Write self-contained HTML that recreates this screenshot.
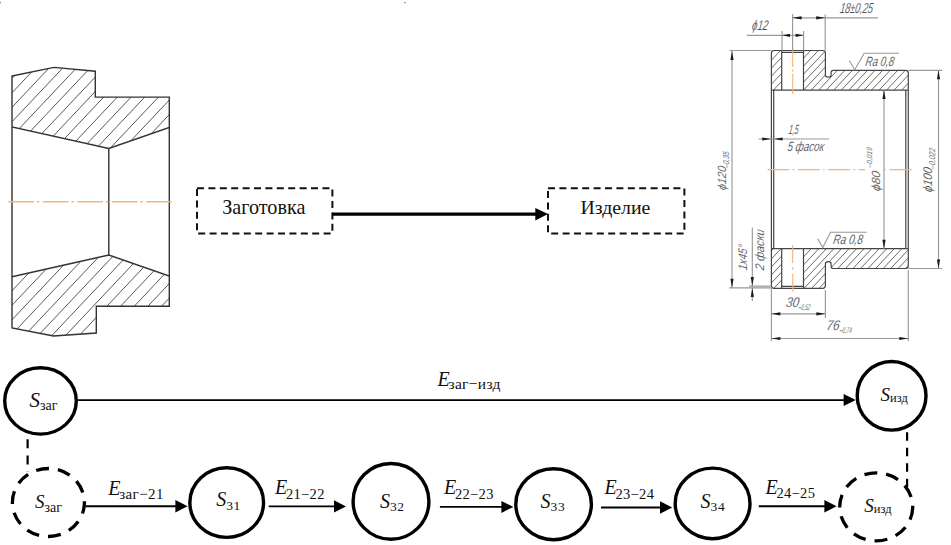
<!DOCTYPE html>
<html><head><meta charset="utf-8"><style>
html,body{margin:0;padding:0;background:#fff;width:951px;height:545px;overflow:hidden}
svg{display:block;font-family:"Liberation Serif",serif}
</style></head><body>
<svg width="951" height="545" viewBox="0 0 951 545">
<rect x="404" y="2" width="2" height="1.2" fill="#999"/><rect x="0" y="2" width="1" height="1.2" fill="#888"/>
<defs>
<clipPath id="c1"><polygon points="12,76 54,67.4 95.3,71.2 95.3,97.1 169.3,97.1 169.3,127.5 108.8,148.5 12,127"/></clipPath>
<clipPath id="c2"><polygon points="12,276.8 108.8,255 169.3,276 169.3,306.3 96.3,306.3 96.3,333 53.5,336 12,328"/></clipPath>
</defs>
<path clip-path="url(#c1)" d="M0,47.50L200,-164.50M0,62.00L200,-150.00M0,76.50L200,-135.50M0,91.00L200,-121.00M0,105.50L200,-106.50M0,120.00L200,-92.00M0,134.50L200,-77.50M0,149.00L200,-63.00M0,163.50L200,-48.50M0,178.00L200,-34.00M0,192.50L200,-19.50M0,207.00L200,-5.00M0,221.50L200,9.50M0,236.00L200,24.00M0,250.50L200,38.50M0,265.00L200,53.00M0,279.50L200,67.50M0,294.00L200,82.00M0,308.50L200,96.50M0,323.00L200,111.00M0,337.50L200,125.50M0,352.00L200,140.00M0,366.50L200,154.50M0,381.00L200,169.00M0,395.50L200,183.50M0,410.00L200,198.00M0,424.50L200,212.50M0,439.00L200,227.00M0,453.50L200,241.50M0,468.00L200,256.00M0,482.50L200,270.50M0,497.00L200,285.00M0,511.50L200,299.50M0,526.00L200,314.00" stroke="#444" stroke-width="0.9" fill="none"/>
<path clip-path="url(#c2)" d="M0,100.50L200,-111.50M0,115.00L200,-97.00M0,129.50L200,-82.50M0,144.00L200,-68.00M0,158.50L200,-53.50M0,173.00L200,-39.00M0,187.50L200,-24.50M0,202.00L200,-10.00M0,216.50L200,4.50M0,231.00L200,19.00M0,245.50L200,33.50M0,260.00L200,48.00M0,274.50L200,62.50M0,289.00L200,77.00M0,303.50L200,91.50M0,318.00L200,106.00M0,332.50L200,120.50M0,347.00L200,135.00M0,361.50L200,149.50M0,376.00L200,164.00M0,390.50L200,178.50M0,405.00L200,193.00M0,419.50L200,207.50M0,434.00L200,222.00M0,448.50L200,236.50M0,463.00L200,251.00M0,477.50L200,265.50M0,492.00L200,280.00M0,506.50L200,294.50M0,521.00L200,309.00M0,535.50L200,323.50M0,550.00L200,338.00M0,564.50L200,352.50M0,579.00L200,367.00M0,593.50L200,381.50M0,608.00L200,396.00M0,622.50L200,410.50M0,637.00L200,425.00M0,651.50L200,439.50M0,666.00L200,454.00M0,680.50L200,468.50M0,695.00L200,483.00M0,709.50L200,497.50" stroke="#444" stroke-width="0.9" fill="none"/>
<polygon points="12,76 54,67.4 95.3,71.2 95.3,97.1 169.3,97.1 169.3,127.5 108.8,148.5 12,127" fill="none" stroke="#333" stroke-width="1.4" stroke-linejoin="miter"/>
<polygon points="12,276.8 108.8,255 169.3,276 169.3,306.3 96.3,306.3 96.3,333 53.5,336 12,328" fill="none" stroke="#333" stroke-width="1.4"/>
<path d="M12,127V276.8M108.8,148.5V255M169.3,127.5V276" stroke="#333" stroke-width="1.4" fill="none"/>
<path d="M8.4,201.8H172.6" stroke="#f6b47a" stroke-width="1.6" stroke-dasharray="25.5 3 2.5 3.5" fill="none"/>
<rect x="197" y="188.2" width="135.4" height="45.2" fill="none" stroke="#111" stroke-width="2" stroke-dasharray="7 4.4"/>
<rect x="548" y="188.2" width="136.4" height="45.2" fill="none" stroke="#111" stroke-width="2" stroke-dasharray="7 4.4"/>
<text x="263.8" y="213.9" font-family="Liberation Serif" font-size="20.2" text-anchor="middle" fill="#111">Заготовка</text>
<text x="615.4" y="213.6" font-family="Liberation Serif" font-size="19.8" text-anchor="middle" fill="#111">Изделие</text>
<path d="M332.4,214.1H537" stroke="#000" stroke-width="3.2" fill="none"/>
<polygon points="535.3,207.9 548,214.1 535.3,220.4" fill="#000"/>
<defs>
<clipPath id="rA"><path d="M771.4,90.1V53.3Q771.4,50.5 774.2,50.5H781.7V90.1Z"/><path d="M803.5,50.5H822.6Q825.4,50.5 825.4,53.3V75Q825.4,77.2 828.25,77.2Q831.1,77.2 831.1,75V72.6Q831.1,70.3 833.4,70.3H905.5Q908.3,70.3 908.3,73.1V90.1H803.5Z"/></clipPath>
<clipPath id="rB"><path transform="matrix(1,0,0,-1,0,338.8)" d="M771.4,90.1V53.3Q771.4,50.5 774.2,50.5H781.7V90.1Z"/><path transform="matrix(1,0,0,-1,0,338.8)" d="M803.5,50.5H822.6Q825.4,50.5 825.4,53.3V75Q825.4,77.2 828.25,77.2Q831.1,77.2 831.1,75V72.6Q831.1,70.3 833.4,70.3H905.5Q908.3,70.3 908.3,73.1V90.1H803.5Z"/></clipPath>
</defs>
<path clip-path="url(#rA)" d="M760,32.30L960,-179.70M760,40.30L960,-171.70M760,48.30L960,-163.70M760,56.30L960,-155.70M760,64.30L960,-147.70M760,72.30L960,-139.70M760,80.30L960,-131.70M760,88.30L960,-123.70M760,96.30L960,-115.70M760,104.30L960,-107.70M760,112.30L960,-99.70M760,120.30L960,-91.70M760,128.30L960,-83.70M760,136.30L960,-75.70M760,144.30L960,-67.70M760,152.30L960,-59.70M760,160.30L960,-51.70M760,168.30L960,-43.70M760,176.30L960,-35.70M760,184.30L960,-27.70M760,192.30L960,-19.70M760,200.30L960,-11.70M760,208.30L960,-3.70M760,216.30L960,4.30M760,224.30L960,12.30M760,232.30L960,20.30M760,240.30L960,28.30M760,248.30L960,36.30M760,256.30L960,44.30M760,264.30L960,52.30M760,272.30L960,60.30M760,280.30L960,68.30M760,288.30L960,76.30M760,296.30L960,84.30M760,304.30L960,92.30M760,312.30L960,100.30M760,320.30L960,108.30M760,328.30L960,116.30M760,336.30L960,124.30M760,344.30L960,132.30M760,352.30L960,140.30M760,360.30L960,148.30M760,368.30L960,156.30M760,376.30L960,164.30M760,384.30L960,172.30M760,392.30L960,180.30M760,400.30L960,188.30M760,408.30L960,196.30M760,416.30L960,204.30M760,424.30L960,212.30M760,432.30L960,220.30M760,440.30L960,228.30M760,448.30L960,236.30M760,456.30L960,244.30M760,464.30L960,252.30M760,472.30L960,260.30M760,480.30L960,268.30M760,488.30L960,276.30M760,496.30L960,284.30M760,504.30L960,292.30" stroke="#5a5a5a" stroke-width="0.9" fill="none"/>
<path clip-path="url(#rB)" d="M760,39.00L960,-173.00M760,47.00L960,-165.00M760,55.00L960,-157.00M760,63.00L960,-149.00M760,71.00L960,-141.00M760,79.00L960,-133.00M760,87.00L960,-125.00M760,95.00L960,-117.00M760,103.00L960,-109.00M760,111.00L960,-101.00M760,119.00L960,-93.00M760,127.00L960,-85.00M760,135.00L960,-77.00M760,143.00L960,-69.00M760,151.00L960,-61.00M760,159.00L960,-53.00M760,167.00L960,-45.00M760,175.00L960,-37.00M760,183.00L960,-29.00M760,191.00L960,-21.00M760,199.00L960,-13.00M760,207.00L960,-5.00M760,215.00L960,3.00M760,223.00L960,11.00M760,231.00L960,19.00M760,239.00L960,27.00M760,247.00L960,35.00M760,255.00L960,43.00M760,263.00L960,51.00M760,271.00L960,59.00M760,279.00L960,67.00M760,287.00L960,75.00M760,295.00L960,83.00M760,303.00L960,91.00M760,311.00L960,99.00M760,319.00L960,107.00M760,327.00L960,115.00M760,335.00L960,123.00M760,343.00L960,131.00M760,351.00L960,139.00M760,359.00L960,147.00M760,367.00L960,155.00M760,375.00L960,163.00M760,383.00L960,171.00M760,391.00L960,179.00M760,399.00L960,187.00M760,407.00L960,195.00M760,415.00L960,203.00M760,423.00L960,211.00M760,431.00L960,219.00M760,439.00L960,227.00M760,447.00L960,235.00M760,455.00L960,243.00M760,463.00L960,251.00M760,471.00L960,259.00M760,479.00L960,267.00M760,487.00L960,275.00M760,495.00L960,283.00M760,503.00L960,291.00M760,511.00L960,299.00" stroke="#5a5a5a" stroke-width="0.9" fill="none"/>
<path d="M771.4,169.4V53.3Q771.4,50.5 774.2,50.5H822.6Q825.4,50.5 825.4,53.3V75Q825.4,77.2 828.25,77.2Q831.1,77.2 831.1,75V72.6Q831.1,70.3 833.4,70.3H905.5Q908.3,70.3 908.3,73.1V169.4M771.4,90.1H908.3M781.7,50.5V90.1M803.5,50.5V90.1M781.7,52.4H803.5M773.7,90.1V169.4M905.8,90.1V169.4" stroke="#454545" stroke-width="1.2" fill="none"/>
<g transform="matrix(1,0,0,-1,0,338.8)"><path d="M771.4,169.4V53.3Q771.4,50.5 774.2,50.5H822.6Q825.4,50.5 825.4,53.3V75Q825.4,77.2 828.25,77.2Q831.1,77.2 831.1,75V72.6Q831.1,70.3 833.4,70.3H905.5Q908.3,70.3 908.3,73.1V169.4M771.4,90.1H908.3M781.7,50.5V90.1M803.5,50.5V90.1M781.7,52.4H803.5M773.7,90.1V169.4M905.8,90.1V169.4" stroke="#454545" stroke-width="1.2" fill="none"/></g>
<path d="M767.6,169.6H865.2" stroke="#f6b37a" stroke-width="1.2" stroke-dasharray="21.9 3.3 1.7 3.4" fill="none"/>
<path d="M883.9,169.6H911.5" stroke="#f6b37a" stroke-width="1.2" stroke-dasharray="1.7 3.9 21.9 3.3" fill="none"/>
<path d="M792.7,50.5V67M792.7,69.5V71.7M792.7,73.5V94M792.7,245V263M792.7,267V269.8M792.7,273.4V291.7" stroke="#f6b37a" stroke-width="1.1" fill="none"/>
<path d="M729.4,50.5H771.4M732,51V287.8M729.1,287.8H771.4M749,286.1H771.4M752.3,227.4V301M746.8,35.3H803.6M782,31V50.5M803.6,31V50.5M792.6,14V50.5M825.2,14.5V50.5M792.6,17.8H878M758.5,139H829M884,90.1V248.7M938.5,70.3V268.5M908.3,70.3H942M908.3,268.5H942M771.4,313.8H825.4M825.4,290V318M771.4,288.3V341M908.3,270V341M771.4,338.5H908.3M849.2,60.5L854.7,69.7L864.2,53.2H899M817.7,238.8L822.8,247.6L830.5,232.2H866.8" stroke="#999999" stroke-width="1.15" fill="none"/>
<polygon points="732,51 733.6,60.0 730.4,60.0" fill="#1a1a1a"/>
<polygon points="732,287.8 730.4,278.8 733.6,278.8" fill="#1a1a1a"/>
<polygon points="752.3,286.1 750.6999999999999,277.1 753.9,277.1" fill="#1a1a1a"/>
<polygon points="752.3,288 753.9,297.0 750.6999999999999,297.0" fill="#1a1a1a"/>
<polygon points="782,35.3 790.0,33.699999999999996 790.0,36.9" fill="#1a1a1a"/>
<polygon points="803.6,35.3 795.6,36.9 795.6,33.699999999999996" fill="#1a1a1a"/>
<polygon points="792.6,17.8 801.6,16.2 801.6,19.400000000000002" fill="#1a1a1a"/>
<polygon points="825.2,17.8 816.2,19.400000000000002 816.2,16.2" fill="#1a1a1a"/>
<polygon points="771.2,139 762.2,140.6 762.2,137.4" fill="#1a1a1a"/>
<polygon points="773.6,139 782.6,137.4 782.6,140.6" fill="#1a1a1a"/>
<polygon points="884,90.1 885.6,99.1 882.4,99.1" fill="#1a1a1a"/>
<polygon points="884,248.7 882.4,239.7 885.6,239.7" fill="#1a1a1a"/>
<polygon points="938.5,70.3 940.1,79.3 936.9,79.3" fill="#1a1a1a"/>
<polygon points="938.5,268.5 936.9,259.5 940.1,259.5" fill="#1a1a1a"/>
<polygon points="771.4,313.8 780.4,312.2 780.4,315.40000000000003" fill="#1a1a1a"/>
<polygon points="825.4,313.8 816.4,315.40000000000003 816.4,312.2" fill="#1a1a1a"/>
<polygon points="771.4,338.5 780.4,336.9 780.4,340.1" fill="#1a1a1a"/>
<polygon points="908.3,338.5 899.3,340.1 899.3,336.9" fill="#1a1a1a"/>
<text transform="translate(751.6,29.599999999999998) skewX(-9)" x="0" y="0" font-size="14" font-family="Liberation Sans" font-style="italic" fill="#4d4d4d" textLength="16" lengthAdjust="spacingAndGlyphs" stroke="#fff" stroke-width="0.12" >ϕ12</text>
<text transform="translate(839.4,13.200000000000001) skewX(-9)" x="0" y="0" font-size="14.5" font-family="Liberation Sans" font-style="italic" fill="#4d4d4d" textLength="33" lengthAdjust="spacingAndGlyphs" stroke="#fff" stroke-width="0.12" >18±0,25</text>
<text transform="translate(865,66.4) skewX(-9)" x="0" y="0" font-size="13.5" font-family="Liberation Sans" font-style="italic" fill="#4d4d4d" textLength="28.6" lengthAdjust="spacingAndGlyphs" stroke="#fff" stroke-width="0.12" >Ra 0,8</text>
<text transform="translate(832.7,244.4) skewX(-9)" x="0" y="0" font-size="13.5" font-family="Liberation Sans" font-style="italic" fill="#4d4d4d" textLength="29.7" lengthAdjust="spacingAndGlyphs" stroke="#fff" stroke-width="0.12" >Ra 0,8</text>
<text transform="translate(788.3,133.6) skewX(-9)" x="0" y="0" font-size="13.5" font-family="Liberation Sans" font-style="italic" fill="#4d4d4d" textLength="9.7" lengthAdjust="spacingAndGlyphs" stroke="#fff" stroke-width="0.12" >1,5</text>
<text transform="translate(787,151.4) skewX(-9)" x="0" y="0" font-size="13.5" font-family="Liberation Sans" font-style="italic" fill="#4d4d4d" textLength="36.5" lengthAdjust="spacingAndGlyphs" stroke="#fff" stroke-width="0.12" >5 фасок</text>
<text transform="translate(785.4,306.9) skewX(-9)" x="0" y="0" font-size="14" font-family="Liberation Sans" font-style="italic" fill="#4d4d4d" textLength="13" lengthAdjust="spacingAndGlyphs" stroke="#fff" stroke-width="0.12" >30</text>
<text transform="translate(798.6,309.9) skewX(-9)" x="0" y="0" font-size="8.5" font-family="Liberation Sans" font-style="italic" fill="#4d4d4d" textLength="11" lengthAdjust="spacingAndGlyphs" stroke="#fff" stroke-width="0.12" >–0,52</text>
<text transform="translate(826,329.9) skewX(-9)" x="0" y="0" font-size="14" font-family="Liberation Sans" font-style="italic" fill="#4d4d4d" textLength="13" lengthAdjust="spacingAndGlyphs" stroke="#fff" stroke-width="0.12" >76</text>
<text transform="translate(839.4,332.9) skewX(-9)" x="0" y="0" font-size="8.5" font-family="Liberation Sans" font-style="italic" fill="#4d4d4d" textLength="12" lengthAdjust="spacingAndGlyphs" stroke="#fff" stroke-width="0.12" >–0,74</text>
<text transform="translate(725.9,190.4) rotate(-90) skewX(-9)" x="0" y="0" font-size="11.8" font-family="Liberation Sans" font-style="italic" fill="#4d4d4d" stroke="#fff" stroke-width="0.12" textLength="24" lengthAdjust="spacingAndGlyphs">ϕ120</text>
<text transform="translate(728.6999999999999,168.6) rotate(-90) skewX(-9)" x="0" y="0" font-size="8.5" font-family="Liberation Sans" font-style="italic" fill="#4d4d4d" stroke="#fff" stroke-width="0.12" textLength="17" lengthAdjust="spacingAndGlyphs">–0,35</text>
<text transform="translate(879.6,191.5) rotate(-90) skewX(-9)" x="0" y="0" font-size="11.8" font-family="Liberation Sans" font-style="italic" fill="#4d4d4d" stroke="#fff" stroke-width="0.12" textLength="20" lengthAdjust="spacingAndGlyphs">ϕ80</text>
<text transform="translate(871.8,168) rotate(-90) skewX(-9)" x="0" y="0" font-size="7.5" font-family="Liberation Sans" font-style="italic" fill="#4d4d4d" stroke="#fff" stroke-width="0.12" textLength="20.5" lengthAdjust="spacingAndGlyphs">–0,019</text>
<text transform="translate(932.4,192.4) rotate(-90) skewX(-9)" x="0" y="0" font-size="12.5" font-family="Liberation Sans" font-style="italic" fill="#4d4d4d" stroke="#fff" stroke-width="0.12" textLength="24.5" lengthAdjust="spacingAndGlyphs">ϕ100</text>
<text transform="translate(934.6,169.4) rotate(-90) skewX(-9)" x="0" y="0" font-size="8.5" font-family="Liberation Sans" font-style="italic" fill="#4d4d4d" stroke="#fff" stroke-width="0.12" textLength="21" lengthAdjust="spacingAndGlyphs">–0,022</text>
<text transform="translate(747.0,270.4) rotate(-90) skewX(-9)" x="0" y="0" font-size="12.5" font-family="Liberation Sans" font-style="italic" fill="#4d4d4d" stroke="#fff" stroke-width="0.12" textLength="25.5" lengthAdjust="spacingAndGlyphs">1х45°</text>
<text transform="translate(764.0,270.4) rotate(-90) skewX(-9)" x="0" y="0" font-size="12.5" font-family="Liberation Sans" font-style="italic" fill="#4d4d4d" stroke="#fff" stroke-width="0.12" textLength="40.5" lengthAdjust="spacingAndGlyphs">2 фаски</text>
<ellipse cx="40.5" cy="400.9" rx="35.8" ry="33.2" fill="none" stroke="#000" stroke-width="3.4"/>
<ellipse cx="891.6" cy="395.8" rx="34.4" ry="34.3" fill="none" stroke="#000" stroke-width="3.4"/>
<path d="M77.8,400.1H844.5999999999999" stroke="#000" stroke-width="1.9" fill="none"/><polygon points="843.5999999999999,394.1 855.8,400.1 843.5999999999999,406.1" fill="#000"/>
<path d="M27.6,439.3V472" stroke="#000" stroke-width="2.2" stroke-dasharray="9 7.2" fill="none"/>
<path d="M907.1,432.2V487" stroke="#000" stroke-width="2.2" stroke-dasharray="8.6 6.9" fill="none"/>
<ellipse cx="48.4" cy="502.5" rx="36" ry="34" fill="none" stroke="#000" stroke-width="3.3" stroke-dasharray="13 9" stroke-dashoffset="1.7"/>
<ellipse cx="226.7" cy="502.6" rx="36.85" ry="34.8" fill="none" stroke="#000" stroke-width="3.4"/>
<ellipse cx="391" cy="501.35" rx="37.9" ry="37.9" fill="none" stroke="#000" stroke-width="3.4"/>
<ellipse cx="553.6" cy="504.2" rx="37.8" ry="35.5" fill="none" stroke="#000" stroke-width="3.4"/>
<ellipse cx="712.6" cy="503.4" rx="37.4" ry="35.3" fill="none" stroke="#000" stroke-width="3.4"/>
<ellipse cx="876.2" cy="506.9" rx="36.5" ry="34" fill="none" stroke="#000" stroke-width="3.3" stroke-dasharray="13 9" stroke-dashoffset="0"/>
<path d="M85.5,506.2H176.4" stroke="#000" stroke-width="1.9" fill="none"/><polygon points="175.4,500.0 187.6,506.2 175.4,512.4" fill="#000"/>
<path d="M268.7,506.4H335" stroke="#000" stroke-width="1.9" fill="none"/><polygon points="334,500.29999999999995 346,506.4 334,512.5" fill="#000"/>
<path d="M439.9,506.9H502.4" stroke="#000" stroke-width="1.9" fill="none"/><polygon points="501.4,500.9 513.4,506.9 501.4,512.9" fill="#000"/>
<path d="M601,507.5H661.0" stroke="#000" stroke-width="1.9" fill="none"/><polygon points="660.0,501.2 672.2,507.5 660.0,513.8" fill="#000"/>
<path d="M758.8,506.3H825.4" stroke="#000" stroke-width="1.9" fill="none"/><polygon points="824.4,500.1 836.6,506.3 824.4,512.5" fill="#000"/>
<text x="29.5" y="407" font-family="Liberation Serif" fill="#111" font-size="21"><tspan font-style="italic">S</tspan><tspan font-size="14" dy="3" letter-spacing="0">заг</tspan></text>
<text x="35" y="507.6" font-family="Liberation Serif" fill="#111" font-size="19"><tspan font-style="italic">S</tspan><tspan font-size="14" dy="4" letter-spacing="0">заг</tspan></text>
<text x="216.2" y="506.4" font-family="Liberation Serif" fill="#111" font-size="20"><tspan font-style="italic">S</tspan><tspan font-size="13.5" dy="3.6" letter-spacing="0.6">31</tspan></text>
<text x="380" y="507.5" font-family="Liberation Serif" fill="#111" font-size="20"><tspan font-style="italic">S</tspan><tspan font-size="13.5" dy="3.4" letter-spacing="0.6">32</tspan></text>
<text x="540.6" y="507.6" font-family="Liberation Serif" fill="#111" font-size="20"><tspan font-style="italic">S</tspan><tspan font-size="13.5" dy="3.4" letter-spacing="0.6">33</tspan></text>
<text x="700.6" y="507.6" font-family="Liberation Serif" fill="#111" font-size="20"><tspan font-style="italic">S</tspan><tspan font-size="13.5" dy="3.4" letter-spacing="0.6">34</tspan></text>
<text x="880.5" y="401.2" font-family="Liberation Serif" fill="#111" font-size="19"><tspan font-style="italic">S</tspan><tspan font-size="12.5" dy="1" letter-spacing="0">изд</tspan></text>
<text x="864.3" y="512.3" font-family="Liberation Serif" fill="#111" font-size="19"><tspan font-style="italic">S</tspan><tspan font-size="12.5" dy="0.5" letter-spacing="0">изд</tspan></text>
<text x="437.5" y="385.6" font-family="Liberation Serif" fill="#111" font-size="20"><tspan font-style="italic">E</tspan><tspan font-size="15.5" dy="3.8" dx="-1.2" letter-spacing="0.3">заг−изд</tspan></text>
<text x="108.2" y="495.4" font-family="Liberation Serif" fill="#111" font-size="20"><tspan font-style="italic">E</tspan><tspan font-size="15" dy="4" dx="-1.2" letter-spacing="0.4">заг−21</tspan></text>
<text x="275" y="494.4" font-family="Liberation Serif" fill="#111" font-size="20"><tspan font-style="italic">E</tspan><tspan font-size="14.5" dy="4.2" dx="-1.2" letter-spacing="0.3">21−22</tspan></text>
<text x="444" y="494.4" font-family="Liberation Serif" fill="#111" font-size="20"><tspan font-style="italic">E</tspan><tspan font-size="14.5" dy="4.2" dx="-1.2" letter-spacing="0.3">22−23</tspan></text>
<text x="604.5" y="494.4" font-family="Liberation Serif" fill="#111" font-size="20"><tspan font-style="italic">E</tspan><tspan font-size="14.5" dy="4.2" dx="-1.2" letter-spacing="0.3">23−24</tspan></text>
<text x="765.5" y="494" font-family="Liberation Serif" fill="#111" font-size="20"><tspan font-style="italic">E</tspan><tspan font-size="14.5" dy="4.2" dx="-1.2" letter-spacing="0.3">24−25</tspan></text>
</svg></body></html>
